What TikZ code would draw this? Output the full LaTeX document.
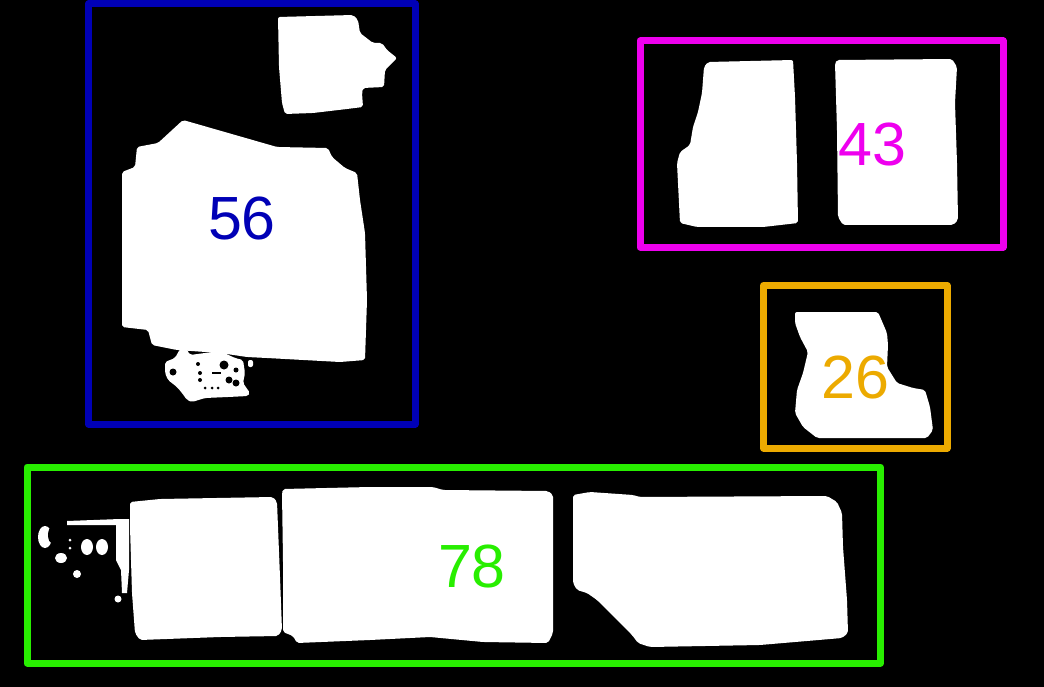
\documentclass[tikz,border=0pt]{standalone}
\usepackage{fontspec}
\setmainfont{Liberation Sans}
\definecolor{cblue}{RGB}{0,0,182}
\definecolor{cmag}{RGB}{238,0,238}
\definecolor{corange}{RGB}{236,170,0}
\definecolor{cgreen}{RGB}{40,238,0}
\begin{document}
\begin{tikzpicture}[x=1pt,y=-1pt,
  bbox/.style={line width=7pt,line join=round},
  blob/.style={fill=white,rounded corners=2pt},
  hole/.style={fill=black},
  lbl/.style={inner sep=0pt,font=\fontsize{61}{61}\selectfont}]
\fill[black] (0,0) rectangle (1044,687);
\useasboundingbox (0,0) rectangle (1044,687);
% ---------- blue group ----------
\fill[blob] (278,17) -- (353,15) -- (358,20) -- (360,33) -- (373,43) -- (382,43) -- (387,50) -- (397,58) -- (392,63) -- (385,70) -- (384,87) -- (363,88) -- (362,93) -- (363,107) -- (347,109) -- (313,113) -- (285,114) -- (282,103) -- (279,67) -- cycle;
\fill[blob] (183,120) -- (277,147) -- (328,148) -- (332,157) -- (345,168) -- (357,173) -- (360,200) -- (365,233) -- (367,300) -- (365,360) -- (340,362) -- (267,358) -- (247,357) -- (220,353) -- (177,350) -- (152,345) -- (148,330) -- (122,327) -- (122,172) -- (135,167) -- (137,147) -- (158,143) -- cycle;
\fill[blob] (165,362) -- (175,358) -- (180,349) -- (186,348) -- (190,355) -- (220,351) -- (235,358) -- (243,360) -- (245,373) -- (243,383) -- (250,393) -- (248,396) -- (228,397) -- (205,398) -- (192,402) -- (187,400) -- (182,393) -- (177,387) -- (168,380) -- (165,373) -- cycle;
\fill[blob] (248,360) rectangle (253,367);
\fill[hole] (173,372) circle (3.5);
\fill[hole] (198,364) circle (2);
\fill[hole] (200,373) circle (2);
\fill[hole] (200,380) circle (2);
\fill[hole] (212,372) rectangle (221,374);
\fill[hole] (224,365) circle (4.5);
\fill[hole] (229,380) circle (3.5);
\fill[hole] (236,383) circle (3.5);
\fill[hole] (236,370) circle (2.5);
\fill[hole] (205,388) circle (1.5);
\fill[hole] (212,388) circle (1.5);
\fill[hole] (218,388) circle (1.5);
\draw[bbox,cblue] (88.5,4) rectangle (415,424);
\node[lbl,text=cblue] (l56) at (242,219) {56};
% ---------- magenta group ----------
\fill[blob] (708,62) -- (793,60) -- (795,97) -- (797,163) -- (798,223) -- (763,227) -- (697,227) -- (680,223) -- (677,163) -- (680,152) -- (690,145) -- (693,127) -- (698,112) -- (702,93) -- (704,67) -- cycle;
\fill[blob] (837,60) -- (952,59) -- (957,67) -- (955,103) -- (957,163) -- (958,220) -- (953,225) -- (843,225) -- (838,217) -- (837,130) -- (835,63) -- cycle;
\draw[bbox,cmag] (640,41) rectangle (1003,247);
\node[lbl,text=cmag] (l43) at (872,145) {43};
% ---------- orange group ----------
\fill[blob] (795,312) -- (878,312) -- (887,333) -- (888,345) -- (887,367) -- (897,383) -- (913,388) -- (925,390) -- (930,407) -- (933,430) -- (927,438) -- (817,438) -- (803,427) -- (795,413) -- (797,390) -- (803,373) -- (808,352) -- (800,337) -- (795,323) -- cycle;
\draw[bbox,corange] (763.5,285.5) rectangle (947,448);
\node[lbl,text=corange] (l26) at (855,377) {26};
% ---------- green group ----------
\fill[blob] (130,502) -- (160,499) -- (273,497) -- (277,502) -- (278,527) -- (280,577) -- (282,630) -- (278,636) -- (220,637) -- (140,640) -- (135,633) -- (132,593) -- (130,527) -- cycle;
\fill[blob] (283,489) -- (370,487) -- (433,487) -- (443,490) -- (548,491) -- (553,495) -- (553,527) -- (553,633) -- (548,643) -- (483,642) -- (430,637) -- (370,640) -- (297,643) -- (293,636) -- (283,632) -- (283,560) -- (282,493) -- cycle;
\fill[blob] (573,495) -- (590,492) -- (633,495) -- (640,497) -- (827,496) -- (837,502) -- (842,513) -- (843,547) -- (847,600) -- (848,633) -- (842,638) -- (760,645) -- (650,647) -- (638,643) -- (632,635) -- (597,600) -- (587,593) -- (577,590) -- (573,583) -- (573,527) -- cycle;
\fill[white] (67,521) -- (120,519) -- (129,519) -- (129,570) -- (127,593) -- (122,593) -- (121,570) -- (116,560) -- (116,525) -- (67,525) -- cycle;
\fill[white] (45,537) ellipse (7 and 11);
\fill[black] (52,535) ellipse (4 and 8);
\fill[white] (87,547) ellipse (6 and 8);
\fill[white] (102,547) ellipse (6 and 8);
\fill[white] (61,558) ellipse (6 and 5);
\fill[white] (77,574) circle (4);
\fill[white] (118,599) circle (3.5);
\fill[white] (70,540) circle (1.5);
\fill[white] (70,548) circle (1.5);
\draw[bbox,cgreen] (27,467) rectangle (880.5,663);
\node[lbl,text=cgreen] (l78) at (472,566) {78};
\end{tikzpicture}
\end{document}
